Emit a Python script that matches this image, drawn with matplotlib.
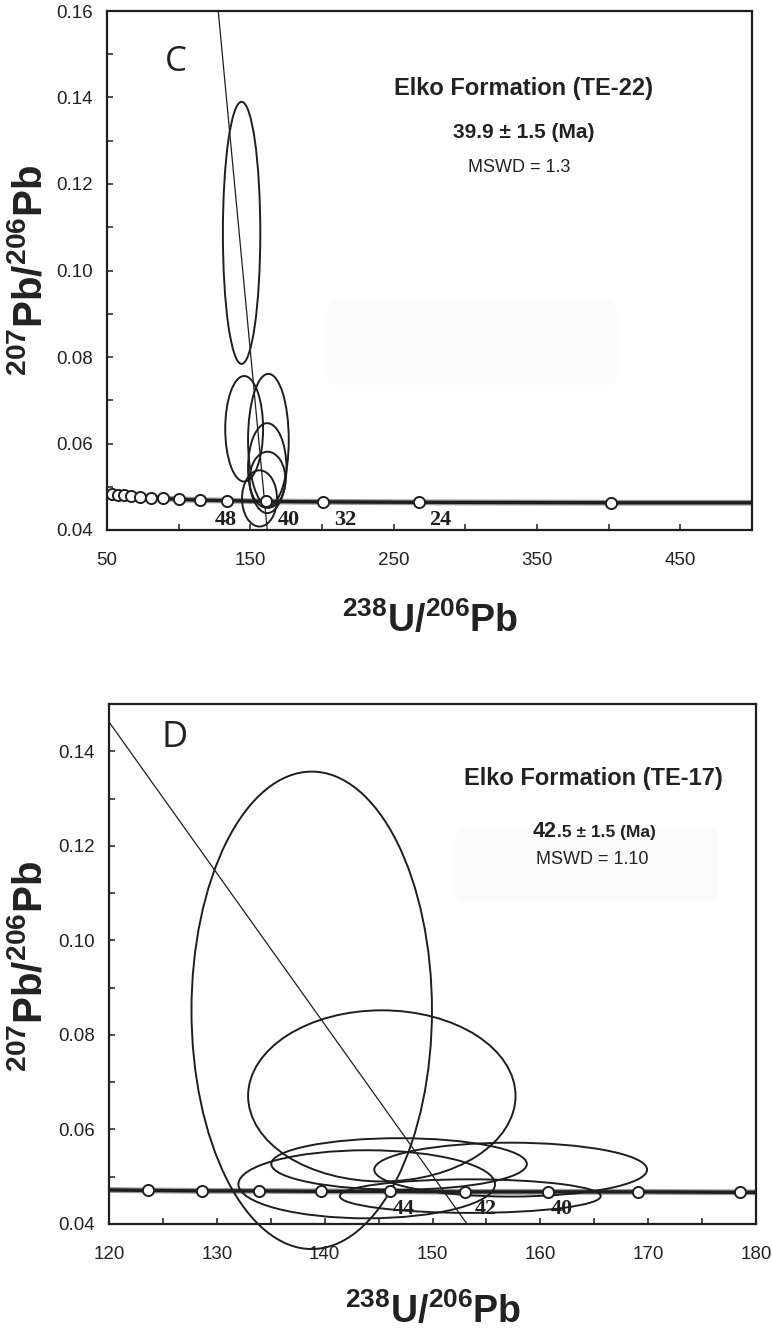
import matplotlib
matplotlib.use('Agg')
import matplotlib.pyplot as plt
from matplotlib.patches import Ellipse, FancyBboxPatch
from matplotlib.ticker import MultipleLocator
from matplotlib import font_manager

# ---------------- data: panel C (TE-22) ----------------
c_curve_x = [50, 53.6, 57.4, 61.8, 67.0, 73.1, 80.4, 89.3, 100.5, 114.8, 133.9, 160.7, 200.8, 267.7, 401.5, 500]
c_curve_y = [0.0486, 0.0484, 0.0482, 0.0480, 0.0478, 0.0477, 0.0475, 0.0473, 0.0471, 0.0469, 0.0468, 0.0466, 0.0465, 0.0464, 0.0463, 0.0463]
c_pts_x = [53.6, 57.4, 61.8, 67.0, 73.1, 80.4, 89.3, 100.5, 114.8, 133.9, 160.7, 200.8, 267.7, 401.5]
c_pts_y = [0.0484, 0.0482, 0.0480, 0.0478, 0.0477, 0.0475, 0.0473, 0.0471, 0.0469, 0.0468, 0.0466, 0.0465, 0.0464, 0.0463]
c_age_labels = ['48', '40', '32', '24']
c_age_x = [133.2, 176.6, 216.4, 282.2]
c_age_y = [0.0424, 0.0424, 0.0424, 0.0424]
c_ell_x = [143.9, 145.7, 162.6, 161.8, 162.0, 156.4]
c_ell_y = [0.1087, 0.0634, 0.0608, 0.0543, 0.0516, 0.0473]
c_ell_w = [26.1, 26.4, 28.4, 26.8, 25.0, 24.4]
c_ell_h = [0.0606, 0.0244, 0.0306, 0.0208, 0.0130, 0.0130]
c_disc_x = [127.6, 161.8]
c_disc_y = [0.16, 0.04]

# ---------------- data: panel D (TE-17) ----------------
d_curve_x = [120, 123.6, 128.6, 133.9, 139.7, 146.1, 153.0, 160.7, 169.1, 178.5, 180]
d_curve_y = [0.0472, 0.0471, 0.0470, 0.0470, 0.0469, 0.0469, 0.0468, 0.0468, 0.0468, 0.0467, 0.0467]
d_pts_x = [123.6, 128.6, 133.9, 139.7, 146.1, 153.0, 160.7, 169.1, 178.5]
d_pts_y = [0.0471, 0.0470, 0.0470, 0.0469, 0.0469, 0.0468, 0.0468, 0.0468, 0.0467]
d_age_labels = ['44', '42', '40']
d_age_x = [147.3, 154.9, 162.0]
d_age_y = [0.0432, 0.0432, 0.0432]
d_ell_x = [138.8, 145.3, 157.25, 146.9, 143.9, 153.5]
d_ell_y = [0.0852, 0.0671, 0.0515, 0.0527, 0.0484, 0.0459]
d_ell_w = [22.3, 24.8, 25.3, 23.7, 23.8, 24.2]
d_ell_h = [0.1010, 0.0362, 0.0114, 0.0109, 0.0144, 0.0071]
d_disc_x = [120, 153.2]
d_disc_y = [0.1462, 0.04]

c_xticks = [50, 150, 250, 350, 450]
c_yticks = [0.04, 0.06, 0.08, 0.10, 0.12, 0.14, 0.16]
d_xticks = [120, 130, 140, 150, 160, 170, 180]
d_yticks = [0.04, 0.06, 0.08, 0.10, 0.12, 0.14]


def pick(names):
    for n in names:
        try:
            font_manager.findfont(n, fallback_to_default=False)
            return n
        except Exception:
            pass
    return 'DejaVu Sans'


NARROW = pick(['Liberation Sans Narrow', 'Liberation Sans', 'DejaVu Sans'])
SANS = pick(['Liberation Sans', 'DejaVu Sans'])
SERIF = pick(['Liberation Serif', 'DejaVu Serif'])
THIN = pick(['Open Sans', 'Lato', 'DejaVu Sans'])

plt.rcParams['mathtext.fontset'] = 'custom'
plt.rcParams['mathtext.bf'] = NARROW + ':bold'
plt.rcParams['mathtext.rm'] = NARROW + ':bold'
plt.rcParams['mathtext.default'] = 'bf'

W, H = 772, 1334
fig = plt.figure(figsize=(W / 100, H / 100), dpi=100)
INK = '#1e1e1e'


def px_axes(l, r, t, b):
    return fig.add_axes([l / W, 1 - b / H, (r - l) / W, (b - t) / H])


def style_axes(ax, xlim, ylim, xticks, yticks, xminor, yminor):
    ax.set_xlim(*xlim)
    ax.set_ylim(*ylim)
    ax.set_xticks(xticks)
    ax.set_yticks(yticks)
    ax.set_xticklabels([str(t) for t in xticks])
    ax.set_yticklabels(['%.2f' % t for t in yticks])
    ax.xaxis.set_minor_locator(MultipleLocator(xminor))
    ax.yaxis.set_minor_locator(MultipleLocator(yminor))
    ax.tick_params(which='both', direction='in', length=4, width=1.1, color=INK)
    ax.tick_params(axis='x', which='major', pad=16)
    ax.tick_params(axis='y', which='major', pad=10)
    for lab in ax.get_xticklabels() + ax.get_yticklabels():
        lab.set_fontfamily(NARROW)
        lab.set_fontsize(13.5)
        lab.set_color('#222222')
    for s in ax.spines.values():
        s.set_linewidth(1.6)
        s.set_color(INK)


def draw_panel(ax, curve_x, curve_y, pts_x, pts_y, ex, ey, ew, eh, disc_x, disc_y, labs, lx, ly):
    for x, y, w, h in zip(ex, ey, ew, eh):
        ax.add_patch(Ellipse((x, y), w, h, fill=False, lw=1.4, ec=INK, zorder=3, clip_on=False))
    ax.plot(curve_x, curve_y, color='#9a9a9a', lw=4.2, solid_capstyle='butt', zorder=2)
    ax.plot(curve_x, curve_y, color=INK, lw=2.4, zorder=4)
    ax.plot(disc_x, disc_y, color=INK, lw=0.9, zorder=5)
    ax.plot(pts_x, pts_y, 'o', ms=8, mfc='white', mec=INK, mew=1.4, zorder=6)
    for t, x, y in zip(labs, lx, ly):
        ax.text(x, y, t, ha='center', va='center', fontfamily=SERIF, fontweight='bold',
                fontsize=16, color=INK, zorder=7)


# ---------------- panel C ----------------
axc = px_axes(107, 752, 11, 530)
style_axes(axc, (50, 500), (0.04, 0.16), c_xticks, c_yticks, 50, 0.01)
axc.add_patch(FancyBboxPatch((327 / W, 1 - 385 / H), 290 / W, 85 / H,
                             boxstyle='round,pad=0,rounding_size=0.01',
                             transform=fig.transFigure, fc='#fbfbfb', ec='none', zorder=0))
draw_panel(axc, c_curve_x, c_curve_y, c_pts_x, c_pts_y, c_ell_x, c_ell_y, c_ell_w, c_ell_h,
           c_disc_x, c_disc_y, c_age_labels, c_age_x, c_age_y)
axc.text(98, 0.1482, 'C', fontfamily=THIN, fontsize=25, ha='center', va='center', color='#222222')
fig.text(523 / W, 1 - 88 / H, 'Elko Formation (TE-22)', fontfamily=SANS, fontweight='bold',
         fontsize=17, ha='center', va='center', color='#222222')
fig.text(524 / W, 1 - 133 / H, '39.9 ± 1.5 (Ma)', fontfamily=SANS, fontweight='bold',
         fontsize=15, ha='center', va='center', color='#222222')
fig.text(519 / W, 1 - 168 / H, 'MSWD = 1.3', fontfamily=SANS,
         fontsize=13, ha='center', va='center', color='#222222')

# ---------------- panel D ----------------
axd = px_axes(109, 756, 704, 1224)
style_axes(axd, (120, 180), (0.04, 0.15), d_xticks, d_yticks, 5, 0.01)
axd.add_patch(FancyBboxPatch((455 / W, 1 - 903 / H), 263 / W, 75 / H,
                             boxstyle='round,pad=0,rounding_size=0.01',
                             transform=fig.transFigure, fc='#fbfbfb', ec='none', zorder=0))
draw_panel(axd, d_curve_x, d_curve_y, d_pts_x, d_pts_y, d_ell_x, d_ell_y, d_ell_w, d_ell_h,
           d_disc_x, d_disc_y, d_age_labels, d_age_x, d_age_y)
axd.text(126.1, 0.1428, 'D', fontfamily=THIN, fontsize=26, ha='center', va='center', color='#222222')
fig.text(593 / W, 1 - 778 / H, 'Elko Formation (TE-17)', fontfamily=SANS, fontweight='bold',
         fontsize=17, ha='center', va='center', color='#222222')
fig.text(557 / W, 1 - 837 / H, '42', fontfamily=SANS, fontweight='bold',
         fontsize=15.5, ha='right', va='baseline', color='#222222')
fig.text(557 / W, 1 - 837 / H, '.5 ± 1.5 (Ma)', fontfamily=SANS, fontweight='bold',
         fontsize=12.5, ha='left', va='baseline', color='#222222')
fig.text(592 / W, 1 - 859 / H, 'MSWD = 1.10', fontfamily=SANS,
         fontsize=13, ha='center', va='center', color='#222222')

# ---------------- axis titles ----------------
ylab = r'$^{207}$Pb/$^{206}$Pb'
xlab = r'$^{238}$U/$^{206}$Pb'
for yc in (270, 966):
    fig.text(30 / W, 1 - yc / H, ylab, rotation=90, fontfamily=NARROW, fontweight='bold',
             fontsize=29, ha='center', va='center', color='#222222')
fig.text(430 / W, 1 - 621 / H, xlab, fontfamily=NARROW, fontweight='bold',
         fontsize=27, ha='center', va='center', color='#222222')
fig.text(433 / W, 1 - 1312 / H, xlab, fontfamily=NARROW, fontweight='bold',
         fontsize=27, ha='center', va='center', color='#222222')

fig.savefig('out.png', dpi=100)
